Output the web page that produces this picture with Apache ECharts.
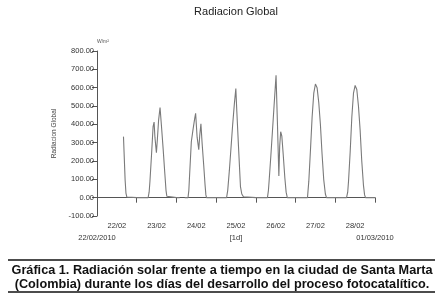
<!DOCTYPE html>
<html>
<head>
<meta charset="utf-8">
<script src="https://cdn.jsdelivr.net/npm/echarts@6/dist/echarts.min.js"></script>
<style>
html,body{margin:0;padding:0;background:#fff;}
#chart{width:445px;height:302px;}
</style>
</head>
<body>
<div id="chart"></div>
<script>
// Day labels (category band per day) and bottom row labels
var dayLabels = ['22/02','23/02','24/02','25/02','26/02','27/02','28/02'];
var bottomLabels = ['22/02/2010','[1d]','01/03/2010'];
var chartTitle = 'Radiacion Global';
var yName = 'Radiacion Global';
var unitLabel = 'W/m\u00b2';
var captionLines = [
  'Gráfica 1. Radiación solar frente a tiempo en la ciudad de Santa Marta',
  '(Colombia) durante los días del desarrollo del proceso fotocatalítico.'
];

// Readings per day: [hour of day, W/m2]; '-' = missing reading
var d22 = [[16,333],[17,95],[17.5,25],[18,4],[18.5,0]];
var d23 = [[0,0],[6.9,0],[7.5,30],[8,90],[8.9,226],[9.9,388],[10.5,412],[11,330],[11.9,245],[12.5,320],[13.2,420],[14.1,492],[15,385],[16,262],[17,130],[17.7,40],[18.2,8],[18.6,0]];
var d24 = [[0,0],[2,0],[3.5,'-'],[5,0],[7,0],[7.5,40],[8,130],[9,305],[10,370],[11,430],[11.6,460],[12.5,330],[13.5,262],[14.1,340],[14.8,403],[15.5,300],[16.5,175],[17.3,70],[17.8,15],[18.2,0]];
var d25 = [[0,0],[6.3,0],[7,40],[8,150],[9.2,300],[10,400],[11,510],[11.9,595],[12.5,470],[13.5,280],[14.7,60],[15.5,20],[16.5,5],[17.5,0]];
var d26 = [[0,0],[7,0],[7.6,40],[8,90],[9,220],[10,360],[11,500],[12.2,667],[13,420],[13.9,118],[14.4,280],[15,360],[15.7,335],[16.5,240],[17.5,110],[18.3,30],[19,0]];
var d27 = [[0,0],[7.2,0],[8,90],[9,260],[10,440],[11,570],[12,620],[12.5,618],[13,600],[14,520],[15,400],[16,240],[17,100],[18,20],[18.7,0]];
var d28 = [[0,0],[6.8,0],[7.5,30],[8,90],[9,250],[10,440],[11,570],[12,612],[12.4,615],[13,590],[14,500],[15,370],[16,200],[17,70],[17.7,15],[18.3,0],[24,0]];
var days = [d22,d23,d24,d25,d26,d27,d28];

var seriesData = [];
days.forEach(function(day, i){
  day.forEach(function(p){
    seriesData.push([p[0] + 24*i, p[1]]);
  });
});

var FONT = 'Liberation Sans';
var chart = echarts.init(document.getElementById('chart'), null, {renderer:'canvas'});
chart.setOption({
  animation:false,
  backgroundColor:'#fff',
  grid:{left:97, right:70, top:51, height:165},
  xAxis:[{
    type:'category', data:dayLabels, boundaryGap:true, position:'bottom',
    axisLine:{show:true, lineStyle:{color:'#555', width:1}},
    axisTick:{show:true, length:5, interval:0, lineStyle:{color:'#555'}},
    axisLabel:{interval:0, fontSize:7.5, color:'#333', margin:6, fontFamily:FONT},
    splitLine:{show:false}
  },{
    type:'value', min:0, max:168, interval:84, position:'bottom',
    axisLine:{show:false}, axisTick:{show:false}, splitLine:{show:false},
    axisLabel:{show:true, fontSize:7.5, color:'#333', margin:18, fontFamily:FONT,
      showMinLabel:true, showMaxLabel:true,
      formatter:function(v){ return bottomLabels[Math.round(v/84)]; }}
  }],
  yAxis:{
    type:'value', min:-100, max:800, interval:100,
    axisLine:{show:true, lineStyle:{color:'#555', width:1}},
    axisTick:{show:true, length:5, lineStyle:{color:'#555'}},
    axisLabel:{fontSize:7.5, color:'#333', margin:3, fontFamily:FONT,
      formatter:function(v){ return v.toFixed(2); }},
    splitLine:{show:false},
    name:yName, nameLocation:'middle', nameGap:37,
    nameTextStyle:{fontSize:6.5, color:'#444', fontFamily:FONT}
  },
  series:[{
    type:'line', xAxisIndex:1, data:seriesData, showSymbol:false,
    connectNulls:false, lineStyle:{color:'#7a7a7a', width:1.1}
  }],
  graphic:[
    {type:'text', x:236, y:12, style:{text:chartTitle, fontSize:11, fontFamily:FONT, fill:'#222', textAlign:'center', textVerticalAlign:'middle'}},
    {type:'text', x:97, y:42, style:{text:unitLabel, fontSize:5, fontFamily:FONT, fill:'#555', textAlign:'left', textVerticalAlign:'middle'}},
    {type:'line', shape:{x1:8, y1:260, x2:435, y2:260}, style:{stroke:'#111', lineWidth:1.5}},
    {type:'line', shape:{x1:8, y1:292, x2:435, y2:292}, style:{stroke:'#111', lineWidth:1.5}},
    {type:'text', x:222, y:270.5, style:{text:captionLines[0], fontSize:12.7, fontWeight:'bold', fontFamily:FONT, fill:'#111', textAlign:'center', textVerticalAlign:'middle'}},
    {type:'text', x:222, y:284.5, style:{text:captionLines[1], fontSize:12.7, fontWeight:'bold', fontFamily:FONT, fill:'#111', textAlign:'center', textVerticalAlign:'middle'}}
  ]
});
</script>
</body>
</html>
